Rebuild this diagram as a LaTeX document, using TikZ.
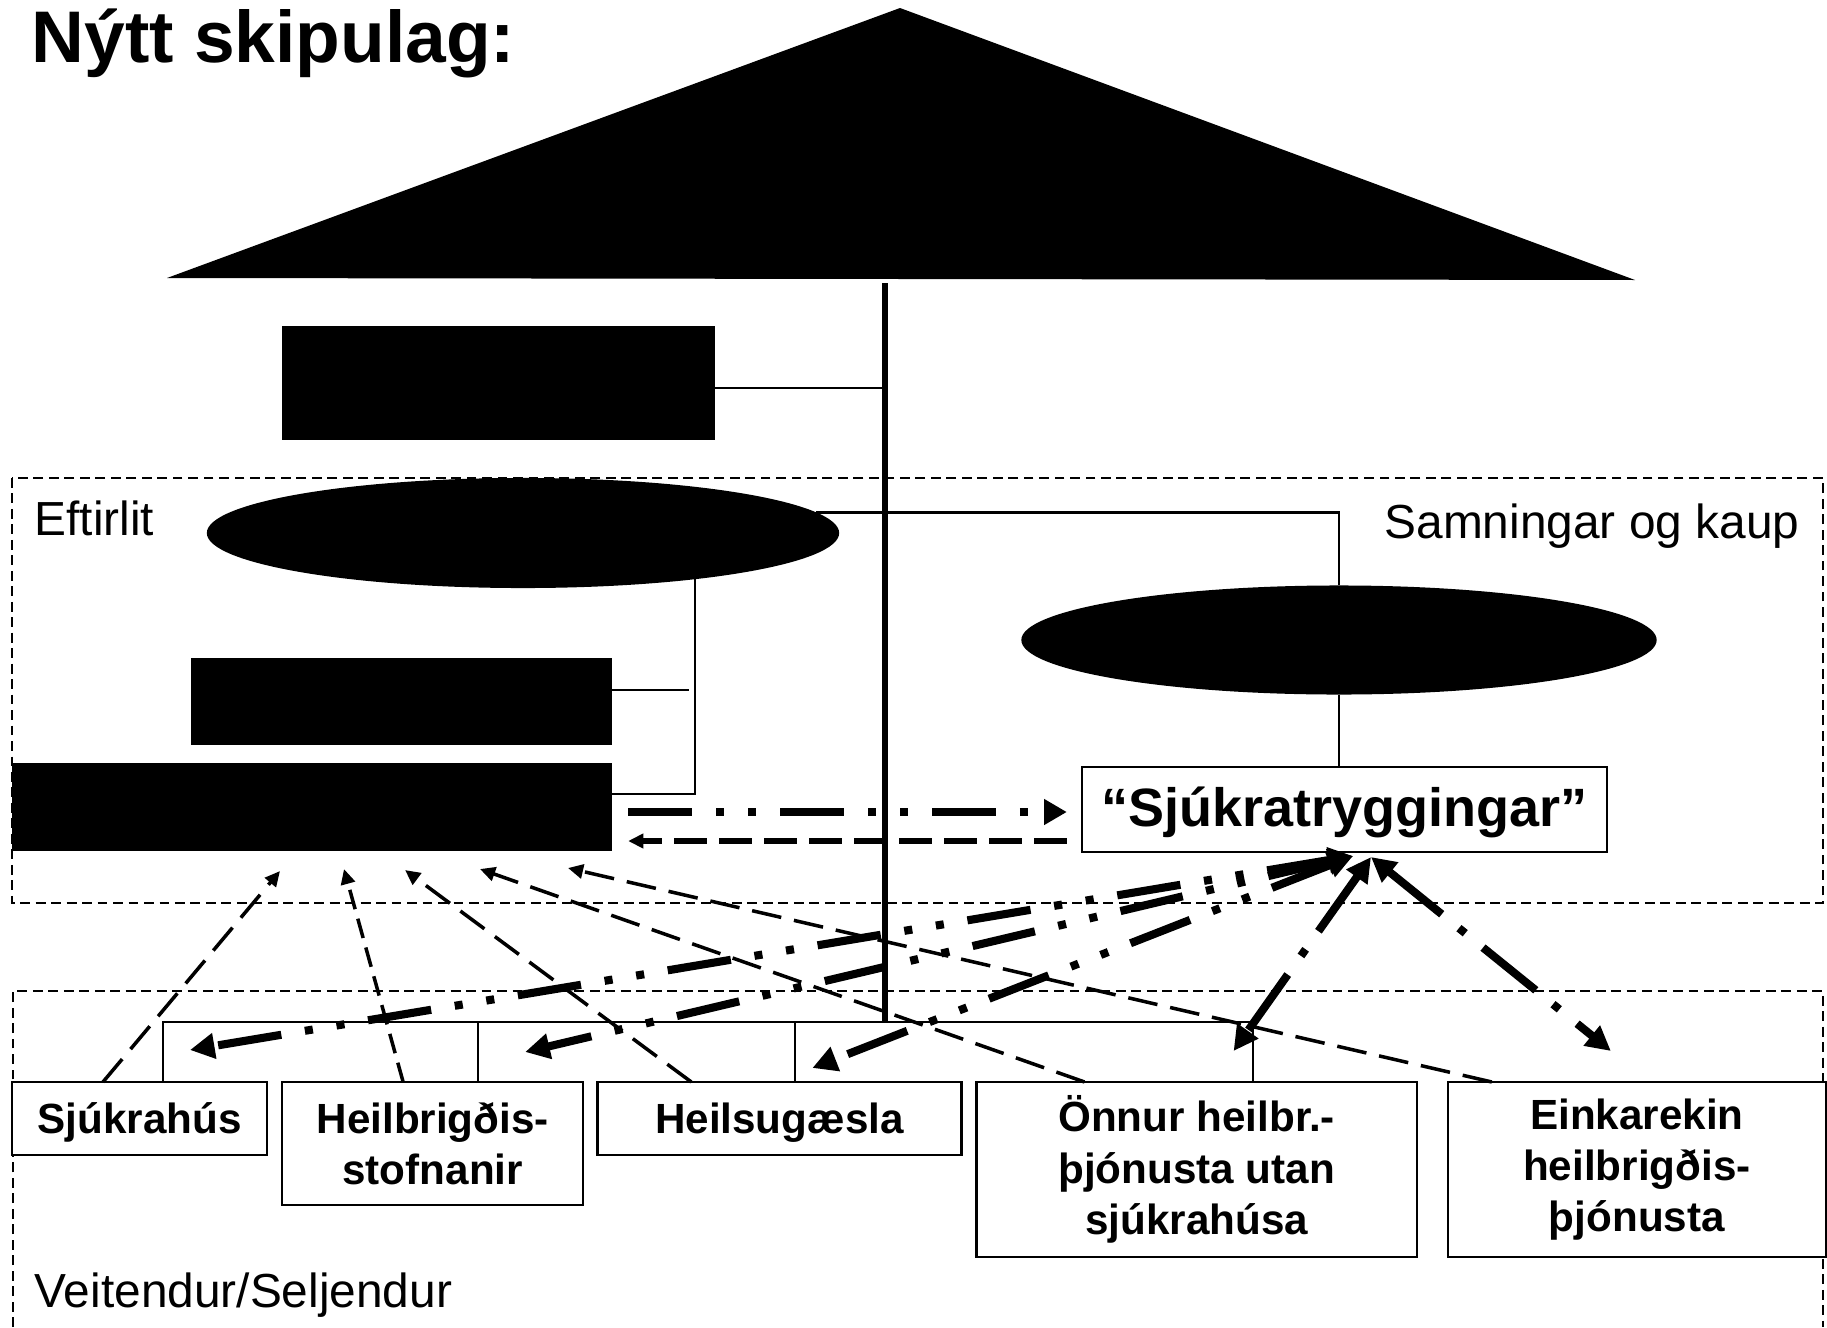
\documentclass[tikz,border=0pt]{standalone}
\usepackage{fontspec}
\setmainfont{Liberation Sans}
\usetikzlibrary{positioning,calc,arrows.meta,shapes.geometric}

\begin{document}
\begin{tikzpicture}[x=0.01cm, y=-0.01cm, >={Triangle[length=4.3pt,width=4pt]},
    org/.style={line width=0.6pt},
    pole/.style={line width=1.9pt},
    blk/.style={fill=black, inner sep=0pt, outer sep=0pt},
    oval/.style={ellipse, fill=black, inner sep=0pt, outer sep=0pt},
    box/.style={draw, line width=0.7pt, fill=white, inner sep=0pt, outer sep=0pt, align=center,
        font=\fontsize{12pt}{14.6pt}\selectfont\bfseries},
    oneline/.style={text height=11pt},
    region/.style={line width=0.6pt, dash pattern=on 2.8pt off 1.6pt},
    zone/.style={inner sep=0pt, font=\fontsize{13.6pt}{16pt}\selectfont},
    sup/.style={line width=1pt, dash pattern=on 8.5pt off 3.7pt, ->},
    thk/.style={line width=2.3pt, >={Triangle[length=7pt,width=7pt]}},
    ddot/.style={dash pattern=on 18.2pt off 6.8pt on 2.3pt off 6.8pt on 2.3pt off 6.8pt},
    dsdot/.style={dash pattern=on 19.3pt off 6.3pt on 2.3pt off 6.5pt}]

    \useasboundingbox (0,0) rectangle (1827,1327);

    % roof and pole
    \fill (167,278) -- (900,8) -- (1635,280) -- cycle;
    \coordinate (pole_top) at (885,283);
    \coordinate (pole_bot) at (885,1022);
    \node[anchor=base west, inner sep=0pt, font=\fontsize{20.8pt}{24pt}\selectfont\bfseries] (title) at (31,62) {Nýtt skipulag:};

    % regions
    \draw[region] (12,478) rectangle (1823,903);
    \draw[region] (13,1327) -- (13,991) -- (1823,991) -- (1823,1327);
    \node[zone, anchor=base west] (eftirlit) at (34,535) {Eftirlit};
    \node[zone, anchor=base east] (samn) at (1800,538) {Samningar og kaup};
    \node[zone, anchor=base west] (veit) at (34,1307) {Veitendur/Seljendur};

    % black blocks
    \node[blk, minimum width=4.33cm, minimum height=1.14cm] (blk1) at (498.5,383) {};
    \node[oval, minimum width=6.32cm, minimum height=1.10cm] (ell1) at (523,533) {};
    \node[blk, minimum width=4.21cm, minimum height=0.87cm] (blk2) at (401.5,701.5) {};
    \node[blk, minimum width=6.00cm, minimum height=0.88cm] (blk3) at (312,807) {};
    \node[oval, minimum width=6.35cm, minimum height=1.09cm] (ell2) at (1339,640) {};

    % purchaser
    \node[draw, line width=0.7pt, fill=white, inner sep=0pt, outer sep=0pt, minimum width=5.25cm, minimum height=0.85cm,
        text height=13pt, font=\fontsize{15.35pt}{18pt}\selectfont\bfseries] (sjukr) at (1344.5,809.5) {“Sjúkratryggingar”};

    % providers
    \node[box, oneline, minimum width=2.55cm, minimum height=0.73cm] (sjh) at (139.5,1118.5) {Sjúkrahús};
    \node[box, anchor=north west, minimum width=3.01cm, minimum height=1.23cm] (stofn) at ([xshift=0.15cm]sjh.north east) {Heilbrigðis-\\stofnanir};
    \node[box, oneline, anchor=north west, minimum width=3.64cm, minimum height=0.73cm] (hsg) at ([xshift=0.14cm]stofn.north east) {Heilsugæsla};
    \node[box, anchor=north west, minimum width=4.40cm, minimum height=1.75cm] (onn) at ([xshift=0.15cm]hsg.north east) {Önnur heilbr.-\\þjónusta utan\\sjúkrahúsa};
    \node[box, anchor=north west, minimum width=3.78cm, minimum height=1.75cm] (eink) at ([xshift=0.31cm]onn.north east) {Einkarekin\\heilbrigðis-\\þjónusta};

    % organisation lines
    \draw[pole] (pole_top) -- (pole_bot);
    \draw[org] ([shift={(0,5)}]blk1.east) -- (pole_top |- 0,388);
    \draw[org] (ell1.4.6) -| (ell2.north);
    \draw[org] (ell1.-15.8) |- ([shift={(0,-13)}]blk3.east);
    \draw[org] ([shift={(0,-11.5)}]blk2.east) -- ++(77,0);
    \draw[org] (ell2.south) -- (ell2.south |- sjukr.north);

    \coordinate (drop1) at ([xshift=0.235cm]sjh.north);
    \coordinate (drop2) at ([xshift=0.455cm]stofn.north);
    \coordinate (drop3) at ([xshift=0.16cm]hsg.north);
    \coordinate (drop4) at ([xshift=0.56cm]onn.north);
    \draw[org] (drop1) |- (drop4 |- pole_bot) -- (drop4);
    \draw[org] (drop2) -- (drop2 |- pole_bot);
    \draw[org] (drop3) -- (drop3 |- pole_bot);

    % supervision
    \draw[sup] ([xshift=-0.365cm]sjh.north) -- ([shift={(-32,20)}]blk3.south);
    \draw[sup, dash pattern=on 5.7pt off 2.8pt] ([xshift=-0.295cm]stofn.north) -- ([shift={(32,18)}]blk3.south);
    \draw[sup] ([xshift=-0.88cm]hsg.north) -- ([shift={(93,19)}]blk3.south);
    \draw[sup] ([xshift=-1.12cm]onn.north) -- ([shift={(168,18)}]blk3.south);
    \draw[sup] ([xshift=-1.45cm]eink.north) -- ([shift={(256,17)}]blk3.south);

    % contracts
    \coordinate (tip_a) at ([shift={(8.5,4)}]sjukr.south);
    \coordinate (tip_b) at ([shift={(26.5,5)}]sjukr.south);
    \draw[thk, ddot, <->] (tip_a) -- ([shift={(50.5,-32)}]sjh.north);
    \draw[thk, ddot, <->] (tip_a) -- ([shift={(92.5,-30)}]stofn.north);
    \draw[thk, ddot, <->] (tip_a) -- ([shift={(33,-14)}]hsg.north);
    \draw[thk, dsdot, <->] (tip_b) -- ([shift={(37,-31)}]onn.north);
    \draw[thk, dsdot, <->] (tip_b) -- ([shift={(-26,-31)}]eink.north);

    \draw[thk, ddot, ->, >={Triangle[length=6.5pt,width=7pt]}] ([shift={(16,5)}]blk3.east) -- ([shift={(-15,2.5)}]sjukr.west);
    \draw[line width=1.5pt, dash pattern=on 9.4pt off 3.4pt, ->] ([shift={(-15,31.5)}]sjukr.west) -- ([shift={(16,34)}]blk3.east);
\end{tikzpicture}
\end{document}
